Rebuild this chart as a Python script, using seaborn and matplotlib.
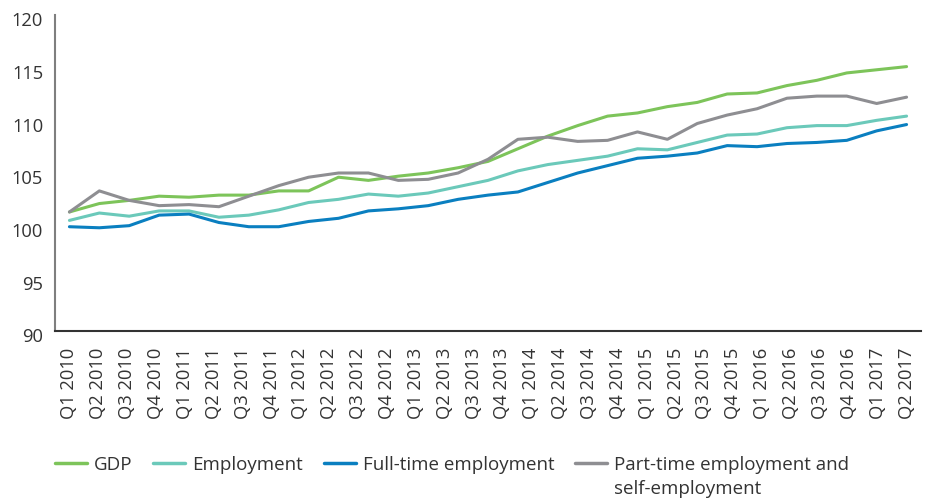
import numpy as np
import pandas as pd
import matplotlib
matplotlib.use("Agg")
import matplotlib.pyplot as plt
import matplotlib.transforms as mtransforms
import seaborn as sns

quarters = [f"Q{q} {y}" for y in range(2010, 2018) for q in range(1, 5)][:30]

gdp = [101.3, 102.1, 102.4, 102.8, 102.7, 102.9, 102.9, 103.3, 103.3, 104.6,
       104.3, 104.7, 105.0, 105.5, 106.1, 107.3, 108.5, 109.5, 110.4, 110.7,
       111.3, 111.7, 112.5, 112.6, 113.3, 113.8, 114.5, 114.8, 115.1]
employment = [100.5, 101.2, 100.9, 101.4, 101.4, 100.8, 101.0, 101.5, 102.2, 102.5,
              103.0, 102.8, 103.1, 103.7, 104.3, 105.2, 105.8, 106.2, 106.6, 107.3,
              107.2, 107.9, 108.6, 108.7, 109.3, 109.5, 109.5, 110.0, 110.4]
full_time = [99.9, 99.8, 100.0, 101.0, 101.1, 100.3, 99.9, 99.9, 100.4, 100.7,
             101.4, 101.6, 101.9, 102.5, 102.9, 103.2, 104.1, 105.0, 105.7, 106.4,
             106.6, 106.9, 107.6, 107.5, 107.8, 107.9, 108.1, 109.0, 109.6]
part_time = [101.3, 103.3, 102.4, 101.9, 102.0, 101.8, 102.8, 103.8, 104.6, 105.0,
             105.0, 104.3, 104.4, 105.0, 106.3, 108.2, 108.4, 108.0, 108.1, 108.9,
             108.2, 109.7, 110.5, 111.1, 112.1, 112.3, 112.3, 111.6, 112.2]

series_names = ["GDP", "Employment", "Full-time employment",
                "Part-time employment and self-employment"]
series_values = [gdp, employment, full_time, part_time]
colors = ["#7DC45A", "#6BC9BA", "#0A7FC0", "#8E8E92"]
text_color = "#333333"

# the series points are spread evenly across the full quarter axis
frames = []
for name, vals in zip(series_names, series_values):
    pos = np.linspace(0, len(quarters) - 1, len(vals))
    frames.append(pd.DataFrame({"pos": pos, "value": vals, "series": name}))
df = pd.concat(frames, ignore_index=True)

sns.set_theme(style="white")
plt.rcParams["font.family"] = ["Open Sans", "DejaVu Sans"]

fig = plt.figure(figsize=(9.27, 5.0), dpi=100)
ax = fig.add_axes([55 / 927, 1 - 331 / 500, (921 - 55) / 927, (331 - 15) / 500])

sns.lineplot(data=df, x="pos", y="value", hue="series", hue_order=series_names,
             palette=colors, linewidth=2.2, ax=ax, legend=False, sort=False)

ax.set_xlim(-0.5, len(quarters) - 0.5)
ax.set_ylim(90, 120)
ax.set_yticks(range(90, 121, 5))
ax.set_xticks(range(len(quarters)))
ax.set_xticklabels(quarters, rotation=90, ha="center", va="top")
ax.set_xlabel("")
ax.set_ylabel("")
ax.tick_params(axis="x", length=0, pad=12, labelsize=13.2, labelcolor=text_color)
ax.tick_params(axis="y", length=0, pad=8.5, labelsize=13.2, labelcolor=text_color)

# value labels sit slightly below their gridline positions
shift = mtransforms.ScaledTranslation(0, -4.3 / 100, fig.dpi_scale_trans)
for lab in ax.get_yticklabels():
    lab.set_transform(lab.get_transform() + shift)

for side in ["top", "right"]:
    ax.spines[side].set_visible(False)
ax.spines["left"].set_color("#7F7F7F")
ax.spines["left"].set_linewidth(1.5)
ax.spines["bottom"].set_color("#333333")
ax.spines["bottom"].set_linewidth(1.5)

# legend: the last entry wraps onto a second line under its first line
first_lines = series_names[:3] + ["Part-time employment and"]
handles = [plt.Line2D([], [], color=c, linewidth=2.5) for c in colors]
leg = fig.legend(handles, first_lines, loc="center left",
                 bbox_to_anchor=(55 / 927, 1 - 465 / 500), ncol=4, frameon=False,
                 fontsize=13.5, handlelength=1.7, handletextpad=0.37,
                 columnspacing=1.12, borderaxespad=0, borderpad=0)
for t in leg.get_texts():
    t.set_color(text_color)

fig.canvas.draw()
last = leg.get_texts()[3].get_window_extent()
fig.text(last.x0 / fig.bbox.width, 1 - 489 / 500, "self-employment",
         fontsize=13.5, color=text_color, ha="left", va="center")

fig.savefig("out.png", dpi=100)
